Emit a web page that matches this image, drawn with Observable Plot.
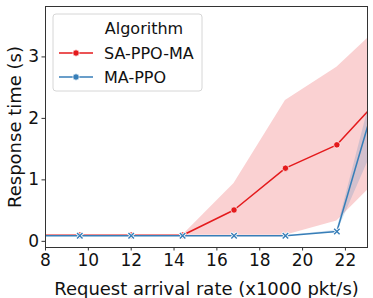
<!DOCTYPE html>
<html>
<head>
<meta charset="utf-8">
<script src="https://cdn.jsdelivr.net/npm/d3@7"></script>
<script src="https://cdn.jsdelivr.net/npm/@observablehq/plot@0.6"></script>
<style>
  html, body { margin: 0; padding: 0; background: #fff; }
  #chart { width: 373px; height: 298px; overflow: hidden; }
  svg { font-family: "DejaVu Sans", sans-serif; }
</style>
</head>
<body>
<div id="chart"></div>
<script>
// Arrival rates (x1000 pkt/s)
const rates = [7.2, 9.6, 12, 14.4, 16.8, 19.2, 21.6, 24];
// SA-PPO-MA response time (s): mean and confidence band
const saMean = [0.10, 0.10, 0.10, 0.10, 0.51, 1.19, 1.57, 2.48];
const saLow  = [0.10, 0.10, 0.10, 0.10, 0.10, 0.10, 0.33, 1.17];
const saHigh = [0.10, 0.10, 0.10, 0.10, 0.94, 2.29, 2.83, 3.62];
// MA-PPO response time (s): mean and confidence band
const maMean = [0.09, 0.09, 0.09, 0.09, 0.09, 0.09, 0.16, 3.02];
const maLow  = [0.09, 0.09, 0.09, 0.09, 0.09, 0.09, 0.14, 2.06];
const maHigh = [0.09, 0.09, 0.09, 0.09, 0.09, 0.09, 0.18, 3.42];

const xTicks = [8, 10, 12, 14, 16, 18, 20, 22];
const yTicks = [0, 1, 2, 3];
const seriesNames = ["SA-PPO-MA", "MA-PPO"];
const seriesColors = ["#e41a1c", "#377eb8"];
const legendTitle = "Algorithm";
const xLabel = "Request arrival rate (x1000 pkt/s)";
const yLabel = "Response time (s)";

const sa = rates.map((x, i) => ({x, mean: saMean[i], lo: saLow[i], hi: saHigh[i]}));
const ma = rates.map((x, i) => ({x, mean: maMean[i], lo: maLow[i], hi: maHigh[i]}));
const red = seriesColors[0], blue = seriesColors[1];

const plot = Plot.plot({
  width: 373,
  height: 298,
  marginLeft: 45,
  marginRight: 6,
  marginTop: 6,
  marginBottom: 51,
  style: {fontFamily: "DejaVu Sans", background: "white", overflow: "visible"},
  x: {domain: [8, 23.03]},
  y: {domain: [-0.1, 3.82]},
  marks: [
    Plot.areaY(sa, {x: "x", y1: "lo", y2: "hi", fill: red, fillOpacity: 0.2, clip: true}),
    Plot.lineY(sa, {x: "x", y: "mean", stroke: red, strokeWidth: 1.5, clip: true}),
    Plot.dot(sa, {x: "x", y: "mean", r: 3.2, fill: red, stroke: "white", strokeWidth: 0.7, clip: true}),
    Plot.areaY(ma, {x: "x", y1: "lo", y2: "hi", fill: blue, fillOpacity: 0.2, clip: true}),
    Plot.lineY(ma, {x: "x", y: "mean", stroke: blue, strokeWidth: 1.5, clip: true}),
    Plot.dot(ma, {x: "x", y: "mean", symbol: "times", r: 3, stroke: "white", strokeWidth: 3, clip: true}),
    Plot.dot(ma, {x: "x", y: "mean", symbol: "times", r: 2.6, stroke: blue, strokeWidth: 1.4, clip: true}),
    Plot.frame({stroke: "#333", strokeWidth: 1}),
    Plot.axisX(xTicks, {tickSize: 3.5, tickPadding: 3, fontSize: 17, label: null, stroke: "#333", color: "#111", tickFormat: d3.format("d")}),
    Plot.axisY(yTicks, {tickSize: 3.5, tickPadding: 3, fontSize: 17, label: null, stroke: "#333", color: "#111", tickFormat: d3.format("d")}),
    Plot.text([xLabel], {frameAnchor: "bottom", dy: 47, fontSize: 18, fill: "#111", textAnchor: "middle"}),
    Plot.text([yLabel], {frameAnchor: "left", dx: -30, rotate: -90, fontSize: 18, fill: "#111", textAnchor: "middle"})
  ]
});
document.getElementById("chart").appendChild(plot);

// Legend (inside the plot area, upper left)
const svg = d3.select(plot);
const lg = svg.append("g").attr("class", "legend");
lg.append("rect").attr("x", 53).attr("y", 14).attr("width", 149).attr("height", 77)
  .attr("rx", 3).attr("fill", "white").attr("fill-opacity", 0.85)
  .attr("stroke", "#d6d6d6").attr("stroke-width", 1);
lg.append("text").attr("x", 144).attr("y", 34).attr("text-anchor", "middle")
  .attr("font-size", 16).attr("fill", "#111").text(legendTitle);
seriesNames.forEach((name, i) => {
  const y = 53 + i * 24;
  lg.append("line").attr("x1", 59).attr("x2", 93).attr("y1", y).attr("y2", y)
    .attr("stroke", seriesColors[i]).attr("stroke-width", 1.5);
  lg.append("circle").attr("cx", 76).attr("cy", y).attr("r", 3.2)
    .attr("fill", seriesColors[i]).attr("stroke", "white").attr("stroke-width", 0.7);
  lg.append("text").attr("x", 104).attr("y", y + 5.5).attr("font-size", 16)
    .attr("text-anchor", "start").attr("fill", "#111").text(name);
});
</script>
</body>
</html>
